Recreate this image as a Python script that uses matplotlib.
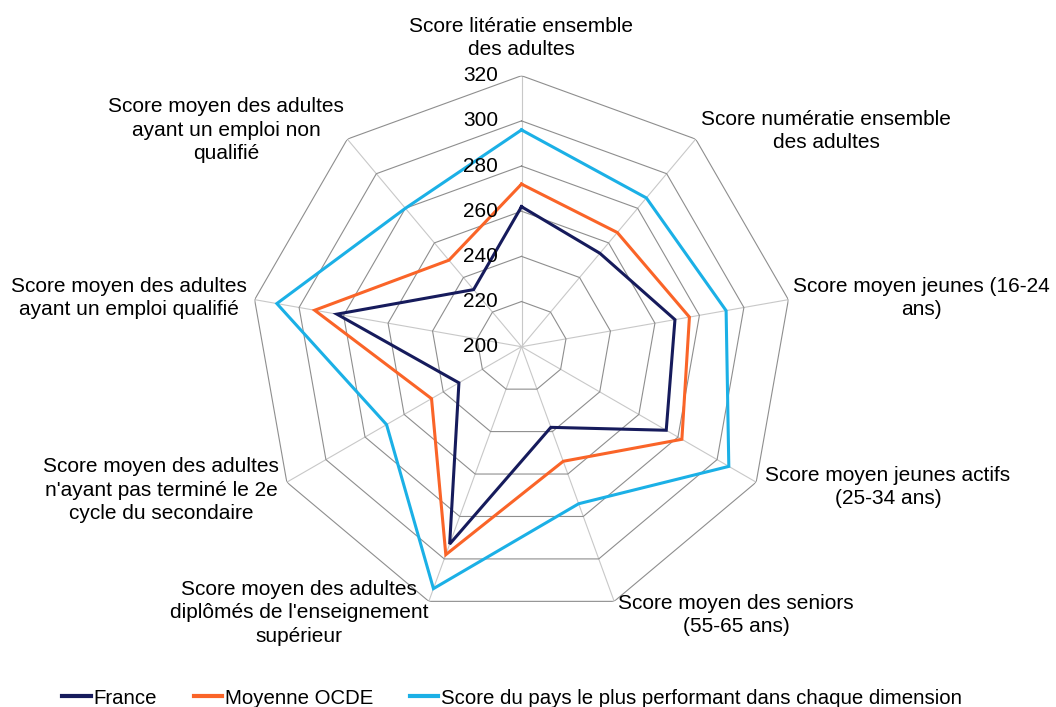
import numpy as np
import matplotlib
matplotlib.use('Agg')
import matplotlib.pyplot as plt
from matplotlib.transforms import ScaledTranslation
from matplotlib.lines import Line2D

plt.rcParams['font.family'] = ['Liberation Sans', 'DejaVu Sans']

categories = [
    "Score litératie ensemble\ndes adultes",
    "Score numératie ensemble\ndes adultes",
    "Score moyen jeunes (16-24\nans)",
    "Score moyen jeunes actifs\n(25-34 ans)",
    "Score moyen des seniors\n(55-65 ans)",
    "Score moyen des adultes\ndiplômés de l'enseignement\nsupérieur",
    "Score moyen des adultes\nn'ayant pas terminé le 2e\ncycle du secondaire",
    "Score moyen des adultes\nayant un emploi qualifié",
    "Score moyen des adultes\nayant un emploi non\nqualifié",
]
france = [262, 254, 269, 274, 238, 293, 232, 283, 233]
ocde = [272, 266, 275.5, 282, 254, 298, 246, 293, 250]
best = [296, 286, 292, 306, 274, 314, 269, 310, 280]
series_names = ["France", "Moyenne OCDE",
                "Score du pays le plus performant dans chaque dimension"]
series_colors = ["#161B5C", "#FA6428", "#1BB0E6"]
ticks = [200, 220, 240, 260, 280, 300, 320]

# label centres in figure pixels (layout)
label_pos = [(521, 38), (826, 131), (921, 298), (888, 487), (736, 615),
             (299, 613), (161, 490), (129, 298), (226, 130)]

W, H = 1056, 707
fig = plt.figure(figsize=(W / 100, H / 100), dpi=100)
cx, cy, R = 521.5, 360.3, 271
ax = fig.add_axes([(cx - R) / W, (cy - R) / H, 2 * R / W, 2 * R / H],
                  projection='polar')
ax.set_theta_zero_location('N')
ax.set_theta_direction(-1)
ax.set_ylim(ticks[0], ticks[-1])
ax.grid(False)
ax.set_xticks([])
ax.set_yticks([])
ax.spines['polar'].set_visible(False)
ax.patch.set_alpha(0)

n = len(categories)
angles = np.arange(n) * 2 * np.pi / n
closed = np.append(angles, angles[0])

# spokes
for a in angles:
    ax.plot([a, a], [ticks[0], ticks[-1]], color='#C8C8C8', lw=0.8, zorder=1)
# rings
for t in ticks[1:]:
    ax.plot(closed, [t] * (n + 1), color='#8E8E8E', lw=0.8, zorder=1)

handles = []
for vals, name, col in zip([france, ocde, best], series_names, series_colors):
    v = np.append(vals, vals[0])
    ax.plot(closed, v, color=col, lw=2.2, label=name, zorder=3,
            solid_joinstyle='miter')
    handles.append(Line2D([], [], color=col, lw=3.0))

off = ax.transData + ScaledTranslation(-0.235, 0, fig.dpi_scale_trans)
for t in ticks:
    ax.text(0, t, str(t), transform=off, ha='right', va='center',
            fontsize=15, color='#000000', zorder=4)

for txt, (x, y) in zip(categories, label_pos):
    fig.text(x / W, 1 - y / H, txt, ha='center', va='center',
             multialignment='center', fontsize=15, linespacing=1.27)

fig.legend(handles, series_names, loc='center',
           bbox_to_anchor=(512 / W, 1 - 698 / H), ncol=3, frameon=False,
           handlelength=1.4, handletextpad=0.12, columnspacing=1.8,
           fontsize=14.7, borderaxespad=0, borderpad=0)

fig.savefig('out.png', dpi=100)
